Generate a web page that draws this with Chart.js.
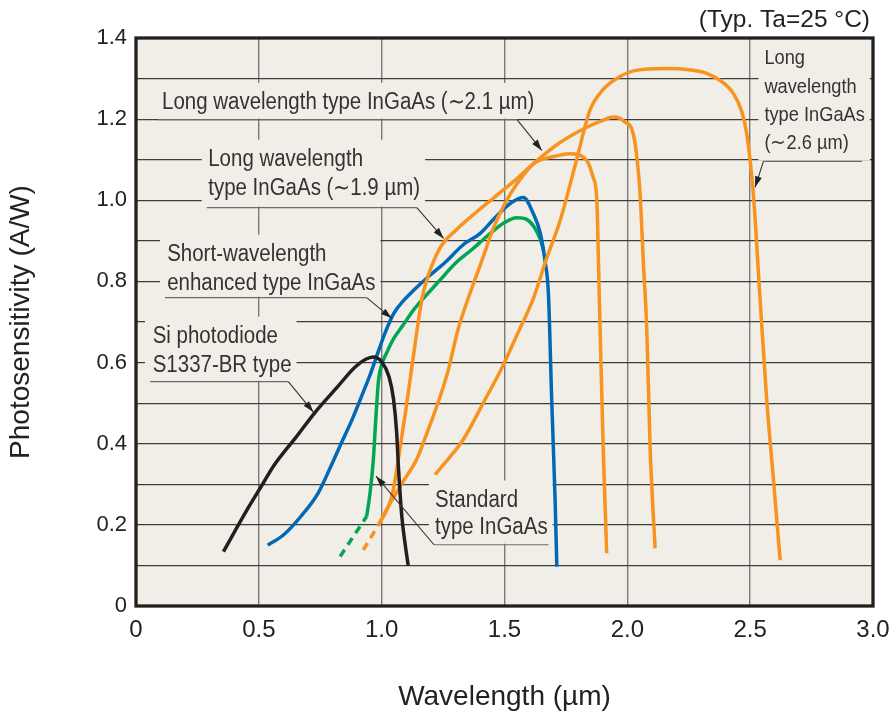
<!DOCTYPE html>
<html>
<head>
<meta charset="utf-8">
<script src="https://cdn.jsdelivr.net/npm/chart.js@4.4.1/dist/chart.umd.min.js"></script>
<style>
  html, body { margin: 0; padding: 0; background: #fff; }
  #chart { display: block; }
</style>
</head>
<body>
<canvas id="chart" width="893" height="718"></canvas>
<script>
const xTickLabels = ['0', '0.5', '1.0', '1.5', '2.0', '2.5', '3.0'];
const yTickLabels = ['0', '0.2', '0.4', '0.6', '0.8', '1.0', '1.2', '1.4'];

// Si photodiode S1337-BR
const siWavelength = [0.356, 0.45, 0.52, 0.56, 0.65, 0.73, 0.82, 0.89, 0.935, 0.966, 1.0, 1.03, 1.048, 1.061, 1.068, 1.082, 1.095, 1.108];
const siSens = [0.134, 0.235, 0.305, 0.345, 0.415, 0.478, 0.54, 0.588, 0.608, 0.614, 0.602, 0.565, 0.511, 0.428, 0.345, 0.221, 0.155, 0.10];

// short-wavelength enhanced InGaAs
const shortWavelength = [0.536, 0.6, 0.67, 0.742, 0.79, 0.831, 0.88, 0.925, 0.953, 0.985, 1.015, 1.05, 1.088, 1.13, 1.183, 1.26, 1.333, 1.40, 1.469, 1.53, 1.577, 1.618, 1.645, 1.665, 1.679, 1.692, 1.706, 1.713];
const shortSens = [0.15, 0.175, 0.22, 0.279, 0.34, 0.395, 0.46, 0.527, 0.57, 0.625, 0.675, 0.722, 0.752, 0.778, 0.808, 0.848, 0.891, 0.918, 0.962, 0.995, 1.007, 0.966, 0.92, 0.85, 0.767, 0.511, 0.262, 0.097];

// standard InGaAs (dashed start + solid)
const stdDashWavelength = [0.831, 0.939];
const stdDashSens = [0.122, 0.221];
const stdWavelength = [0.939, 0.953, 0.966, 0.975, 0.987, 1.0, 1.021, 1.05, 1.088, 1.13, 1.183, 1.24, 1.30, 1.37, 1.43, 1.50, 1.55, 1.59, 1.62, 1.645, 1.66];
const stdSens = [0.221, 0.28, 0.36, 0.45, 0.555, 0.595, 0.625, 0.66, 0.693, 0.73, 0.767, 0.805, 0.845, 0.88, 0.912, 0.945, 0.957, 0.953, 0.935, 0.905, 0.875];

// long wavelength types (shared dashed start)
const longDashWavelength = [0.925, 0.987];
const longDashSens = [0.138, 0.20];
const long21Wavelength = [0.987, 1.028, 1.045, 1.065, 1.10, 1.13, 1.165, 1.19, 1.215, 1.245, 1.30, 1.38, 1.46, 1.54, 1.617, 1.72, 1.835, 1.90, 1.943, 1.99, 2.024, 2.04, 2.052, 2.065, 2.079, 2.093, 2.113];
const long21Sens = [0.20, 0.246, 0.28, 0.35, 0.49, 0.62, 0.76, 0.815, 0.855, 0.89, 0.925, 0.968, 1.008, 1.048, 1.09, 1.14, 1.18, 1.197, 1.205, 1.193, 1.164, 1.10, 1.015, 0.85, 0.684, 0.386, 0.142];
const long19Wavelength = [0.987, 1.028, 1.08, 1.143, 1.17, 1.265, 1.312, 1.355, 1.41, 1.455, 1.50, 1.55, 1.618, 1.70, 1.765, 1.835, 1.861, 1.876, 1.882, 1.889, 1.902, 1.916];
const long19Sens = [0.20, 0.246, 0.30, 0.362, 0.403, 0.568, 0.684, 0.763, 0.855, 0.932, 0.99, 1.04, 1.09, 1.108, 1.115, 1.098, 1.056, 1.0, 0.86, 0.684, 0.386, 0.13];
const long26Wavelength = [1.217, 1.275, 1.333, 1.42, 1.482, 1.53, 1.563, 1.618, 1.672, 1.726, 1.79, 1.848, 1.90, 1.97, 2.025, 2.16, 2.25, 2.323, 2.40, 2.432, 2.465, 2.486, 2.513, 2.54, 2.567, 2.595, 2.622];
const long26Sens = [0.324, 0.365, 0.411, 0.508, 0.578, 0.64, 0.684, 0.759, 0.858, 0.949, 1.092, 1.222, 1.272, 1.305, 1.319, 1.325, 1.322, 1.313, 1.285, 1.263, 1.22, 1.164, 1.015, 0.759, 0.511, 0.31, 0.113];

const FONT = "'Liberation Sans', Arial, Helvetica, sans-serif";
const PLOT_BG = '#f1eee7';
const ORANGE = '#f7931e';
const BLUE = '#0068b7';
const GREEN = '#00a651';
const BLACK = '#231f20';
const SQUEEZE = 0.89;

// callout labels, in data units
const notes = [
  { lines: ['Long wavelength type InGaAs (\u223C2.1 \u00B5m)'], x: 0.106, y: 1.24, lineY: 1.199, lineX0: 0.09, lineX1: 1.551, tipX: 1.652, tipY: 1.123, from: 'end' },
  { lines: ['Long wavelength', 'type InGaAs (\u223C1.9 \u00B5m)'], x: 0.294, y: 1.10, lineY: 0.982, lineX0: 0.288, lineX1: 1.143, tipX: 1.252, tipY: 0.906, from: 'end' },
  { lines: ['Short-wavelength', 'enhanced type InGaAs'], x: 0.127, y: 0.866, lineY: 0.76, lineX0: 0.118, lineX1: 0.939, tipX: 1.041, tipY: 0.709, from: 'end' },
  { lines: ['Si photodiode', 'S1337-BR type'], x: 0.068, y: 0.664, lineY: 0.553, lineX0: 0.057, lineX1: 0.62, tipX: 0.722, tipY: 0.478, from: 'end' },
  { lines: ['Standard', 'type InGaAs'], x: 1.217, y: 0.26, lineY: 0.151, lineX0: 1.213, lineX1: 1.679, tipX: 0.977, tipY: 0.32, from: 'start', gap: 27 },
  { lines: ['Long', 'wavelength', 'type InGaAs', '(\u223C2.6 \u00B5m)'], x: 2.558, y: 1.349, lineY: 1.096, lineX0: 2.554, lineX1: 2.955, tipX: 2.52, tipY: 1.032, from: 'start', size: 20.5, gap: 28.3 }
];

const pts = (xs, ys) => xs.map((v, i) => ({ x: v, y: ys[i] }));

function curve(label, xs, ys, color, dashed) {
  return {
    label,
    data: pts(xs, ys),
    borderColor: color,
    borderWidth: 3.5,
    borderDash: dashed ? [8, 6] : [],
    pointRadius: 0,
    fill: false,
    cubicInterpolationMode: 'monotone',
    borderCapStyle: 'butt',
    borderJoinStyle: 'round'
  };
}

function arrow(ctx, x0, y0, x1, y1) {
  ctx.beginPath();
  ctx.moveTo(x0, y0);
  ctx.lineTo(x1, y1);
  ctx.stroke();
  const ang = Math.atan2(y1 - y0, x1 - x0);
  const len = 11, half = 3.5;
  ctx.beginPath();
  ctx.moveTo(x1, y1);
  ctx.lineTo(x1 - len * Math.cos(ang) + half * Math.sin(ang), y1 - len * Math.sin(ang) - half * Math.cos(ang));
  ctx.lineTo(x1 - len * Math.cos(ang) - half * Math.sin(ang), y1 - len * Math.sin(ang) + half * Math.cos(ang));
  ctx.closePath();
  ctx.fill();
}

const plotFrame = {
  id: 'plotFrame',
  beforeDraw(chart) {
    const { ctx, chartArea: a } = chart;
    ctx.save();
    ctx.fillStyle = PLOT_BG;
    ctx.fillRect(a.left, a.top, a.right - a.left, a.bottom - a.top);
    ctx.restore();
  },
  afterDraw(chart) {
    const { ctx, chartArea: a } = chart;
    ctx.save();
    ctx.strokeStyle = BLACK;
    ctx.lineWidth = 3.3;
    ctx.strokeRect(a.left, a.top, a.right - a.left, a.bottom - a.top);
    ctx.fillStyle = '#222';
    ctx.font = `24.5px ${FONT}`;
    ctx.textAlign = 'right';
    ctx.textBaseline = 'middle';
    ctx.fillText('(Typ. Ta=25 \u00B0C)', a.right - 3, 20);
    ctx.restore();
  }
};

const callouts = {
  id: 'callouts',
  beforeDatasetsDraw(chart) {
    const { ctx, scales: { x, y } } = chart;
    ctx.save();
    ctx.textBaseline = 'middle';
    notes.forEach(n => {
      const size = n.size || 23;
      const gap = n.gap || 29;
      ctx.font = `${size}px ${FONT}`;
      const left = x.getPixelForValue(n.x);
      const top = y.getPixelForValue(n.y);
      const width = Math.max(...n.lines.map(t => ctx.measureText(t).width * SQUEEZE));
      const uy = y.getPixelForValue(n.lineY);
      const u0 = x.getPixelForValue(n.lineX0);
      const u1 = x.getPixelForValue(n.lineX1);
      const bx0 = Math.min(left, u0) - 5;
      const bx1 = left + width + 5;
      ctx.fillStyle = PLOT_BG;
      ctx.fillRect(bx0, top - 20, bx1 - bx0, uy - 1 - (top - 20));
      ctx.fillStyle = '#333';
      n.lines.forEach((t, i) => {
        ctx.save();
        ctx.translate(left, top + i * gap);
        ctx.scale(SQUEEZE, 1);
        ctx.fillText(t, 0, 0);
        ctx.restore();
      });
      ctx.strokeStyle = '#6b6b6b';
      ctx.lineWidth = 1.2;
      ctx.beginPath();
      ctx.moveTo(u0, uy);
      ctx.lineTo(u1, uy);
      ctx.stroke();
    });
    ctx.restore();
  },
  afterDatasetsDraw(chart) {
    const { ctx, scales: { x, y } } = chart;
    ctx.save();
    ctx.strokeStyle = '#333';
    ctx.fillStyle = '#222';
    ctx.lineWidth = 1.1;
    notes.forEach(n => {
      const sx = x.getPixelForValue(n.from === 'end' ? n.lineX1 : n.lineX0);
      const sy = y.getPixelForValue(n.lineY);
      arrow(ctx, sx, sy, x.getPixelForValue(n.tipX), y.getPixelForValue(n.tipY));
    });
    ctx.restore();
  }
};

new Chart(document.getElementById('chart'), {
  type: 'line',
  data: {
    datasets: [
      curve('Si photodiode S1337-BR type', siWavelength, siSens, BLACK),
      curve('Long wavelength type InGaAs (~2.1 µm)', long21Wavelength, long21Sens, ORANGE),
      curve('Long wavelength type InGaAs (~1.9 µm)', long19Wavelength, long19Sens, ORANGE),
      curve('Long wavelength type InGaAs (~2.6 µm)', long26Wavelength, long26Sens, ORANGE),
      curve('Long wavelength start', longDashWavelength, longDashSens, ORANGE, true),
      curve('Short-wavelength enhanced type InGaAs', shortWavelength, shortSens, BLUE),
      curve('Standard type InGaAs', stdWavelength, stdSens, GREEN),
      curve('Standard start', stdDashWavelength, stdDashSens, GREEN, true)
    ]
  },
  options: {
    responsive: false,
    animation: false,
    devicePixelRatio: 1,
    events: [],
    layout: { padding: { top: 38, right: 20, left: 0, bottom: 0 } },
    plugins: {
      legend: { display: false },
      tooltip: { enabled: false }
    },
    scales: {
      x: {
        type: 'linear',
        min: 0,
        max: 3,
        ticks: {
          stepSize: 0.5,
          padding: 10,
          color: '#222',
          font: { family: FONT, size: 24 },
          callback: (v, i) => xTickLabels[i]
        },
        grid: { color: '#7a7a7a', lineWidth: 1.4, drawTicks: false },
        border: { display: false },
        title: {
          display: true,
          text: 'Wavelength (\u00B5m)',
          color: '#222',
          font: { family: FONT, size: 28 },
          padding: { top: 0, bottom: 4 }
        },
        afterFit(scale) {
          scale.height = 112;
          scale.paddingLeft = 0;
          scale.paddingRight = 0;
        }
      },
      y: {
        type: 'linear',
        min: 0,
        max: 1.4,
        ticks: {
          stepSize: 0.1,
          autoSkip: false,
          padding: 9,
          color: '#222',
          font: { family: FONT, size: 22 },
          callback: (v, i) => (i % 2 === 0 ? yTickLabels[i / 2] : '')
        },
        grid: { color: '#3d3d3d', lineWidth: 1.2, drawTicks: false },
        border: { display: false },
        title: {
          display: true,
          text: 'Photosensitivity (A/W)',
          color: '#222',
          font: { family: FONT, size: 28 },
          padding: { top: 4, bottom: 0 }
        },
        afterFit(scale) { scale.width = 136; }
      }
    }
  },
  plugins: [plotFrame, callouts]
});
</script>
</body>
</html>
